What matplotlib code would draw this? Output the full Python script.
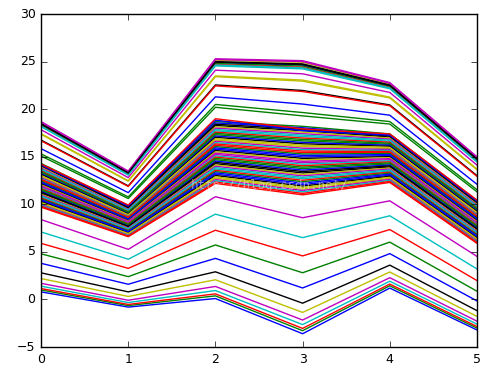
import matplotlib
matplotlib.use("Agg")
import matplotlib.pyplot as plt

# x positions
x = [0, 1, 2, 3, 4, 5]

# lower, sparse lines (plotted first)
lower_lines = [
    [0.80, -0.80, 0.10, -3.60, 1.20, -3.20],
    [1.00, -0.64, 0.38, -3.28, 1.44, -3.00],
    [1.15, -0.52, 0.59, -3.04, 1.62, -2.84],
    [1.40, -0.32, 0.94, -2.64, 1.92, -2.59],
    [1.70, -0.08, 1.37, -2.16, 2.29, -2.28],
    [2.20, 0.32, 2.07, -1.36, 2.89, -1.78],
    [2.80, 0.80, 2.91, -0.39, 3.61, -1.17],
    [3.80, 1.60, 4.32, 1.21, 4.82, -0.15],
    [4.80, 2.40, 5.73, 2.81, 6.03, 0.87],
    [5.90, 3.27, 7.28, 4.58, 7.35, 1.99],
    [7.10, 4.23, 8.97, 6.50, 8.80, 3.21],
    [8.40, 5.27, 10.80, 8.59, 10.37, 4.53],
]

# the dense band in the middle
middle_lines = [
    [9.70, 6.60, 12.20, 11.00, 12.30, 5.90],
    [9.80, 6.67, 12.34, 11.15, 12.41, 6.00],
    [9.90, 6.74, 12.48, 11.31, 12.52, 6.09],
    [9.99, 6.80, 12.61, 11.46, 12.63, 6.19],
    [10.09, 6.87, 12.75, 11.61, 12.73, 6.28],
    [10.19, 6.94, 12.89, 11.77, 12.84, 6.38],
    [10.29, 7.01, 13.03, 11.92, 12.95, 6.47],
    [10.39, 7.08, 13.17, 12.07, 13.06, 6.57],
    [10.48, 7.14, 13.31, 12.23, 13.17, 6.67],
    [10.58, 7.21, 13.44, 12.38, 13.28, 6.76],
    [10.68, 7.28, 13.58, 12.53, 13.39, 6.86],
    [10.78, 7.35, 13.72, 12.69, 13.49, 6.95],
    [10.87, 7.42, 13.86, 12.84, 13.60, 7.05],
    [10.97, 7.49, 14.00, 12.99, 13.71, 7.14],
    [11.07, 7.55, 14.14, 13.14, 13.82, 7.24],
    [11.17, 7.62, 14.27, 13.30, 13.93, 7.34],
    [11.27, 7.69, 14.41, 13.45, 14.04, 7.43],
    [11.36, 7.76, 14.55, 13.60, 14.14, 7.53],
    [11.46, 7.83, 14.69, 13.76, 14.25, 7.62],
    [11.56, 7.89, 14.83, 13.91, 14.36, 7.72],
    [11.66, 7.96, 14.97, 14.06, 14.47, 7.81],
    [11.76, 8.03, 15.10, 14.22, 14.58, 7.91],
    [11.85, 8.10, 15.24, 14.37, 14.69, 8.01],
    [11.95, 8.17, 15.38, 14.52, 14.80, 8.10],
    [12.05, 8.23, 15.52, 14.68, 14.90, 8.20],
    [12.15, 8.30, 15.66, 14.83, 15.01, 8.29],
    [12.24, 8.37, 15.80, 14.98, 15.12, 8.39],
    [12.34, 8.44, 15.93, 15.14, 15.23, 8.48],
    [12.44, 8.51, 16.07, 15.29, 15.34, 8.58],
    [12.54, 8.57, 16.21, 15.44, 15.45, 8.68],
    [12.64, 8.64, 16.35, 15.60, 15.55, 8.77],
    [12.73, 8.71, 16.49, 15.75, 15.66, 8.87],
    [12.83, 8.78, 16.63, 15.90, 15.77, 8.96],
    [12.93, 8.85, 16.76, 16.06, 15.88, 9.06],
    [13.03, 8.91, 16.90, 16.21, 15.99, 9.15],
    [13.13, 8.98, 17.04, 16.36, 16.10, 9.25],
    [13.22, 9.05, 17.18, 16.51, 16.21, 9.35],
    [13.32, 9.12, 17.32, 16.67, 16.31, 9.44],
    [13.42, 9.19, 17.46, 16.82, 16.42, 9.54],
    [13.52, 9.26, 17.59, 16.97, 16.53, 9.63],
    [13.61, 9.32, 17.73, 17.13, 16.64, 9.73],
    [13.71, 9.39, 17.87, 17.28, 16.75, 9.82],
    [13.81, 9.46, 18.01, 17.43, 16.86, 9.92],
    [13.91, 9.53, 18.15, 17.59, 16.97, 10.02],
    [14.01, 9.60, 18.29, 17.74, 17.07, 10.11],
    [14.10, 9.66, 18.42, 17.89, 17.18, 10.21],
    [14.20, 9.73, 18.56, 18.05, 17.29, 10.30],
    [14.30, 9.80, 18.70, 18.20, 17.40, 10.40],
]

# upper, sparse lines
upper_lines = [
    [18.70, 13.50, 25.30, 25.10, 22.80, 15.00],
    [18.59, 13.41, 25.15, 24.93, 22.67, 14.89],
    [18.49, 13.33, 25.00, 24.76, 22.54, 14.78],
    [18.41, 13.27, 24.90, 24.64, 22.45, 14.71],
    [18.34, 13.21, 24.80, 24.53, 22.37, 14.64],
    [18.27, 13.16, 24.70, 24.41, 22.28, 14.56],
    [18.16, 13.07, 24.55, 24.24, 22.15, 14.45],
    [17.84, 12.81, 24.10, 23.72, 21.76, 14.13],
    [17.43, 12.48, 23.50, 23.06, 21.27, 13.71],
    [16.75, 11.94, 22.55, 21.97, 20.45, 13.02],
    [15.85, 11.23, 21.30, 20.54, 19.37, 12.11],
    [15.30, 10.78, 20.50, 19.65, 18.70, 11.54],
    [16.68, 11.88, 22.45, 21.86, 20.36, 12.94],
    [18.23, 13.13, 24.65, 24.35, 22.24, 14.53],
    [18.64, 13.45, 25.22, 25.01, 22.73, 14.94],
    [17.36, 12.43, 23.42, 22.95, 21.18, 13.64],
    [18.45, 13.30, 24.95, 24.70, 22.50, 14.75],
    [14.12, 9.84, 18.85, 17.75, 17.27, 10.34],
    [15.08, 10.61, 20.20, 19.30, 18.44, 11.32],
    [14.23, 9.93, 19.00, 17.93, 17.40, 10.45],
]

plt.style.use('classic')
plt.rcParams['font.size'] = 9

fig = plt.figure(figsize=(5.01, 3.70), dpi=100, facecolor='white')
ax = fig.add_axes([0.082, 0.062, 0.870, 0.900])

# the middle rows are not drawn in sorted order, so the colours mix
n_mid = len(middle_lines)
mid_order = [(i * 11 + 4) % n_mid for i in range(n_mid)]

for row in lower_lines:
    ax.plot(x, row)
for i in mid_order:
    ax.plot(x, middle_lines[i])
for row in upper_lines:
    ax.plot(x, row)

ax.set_xlim(0, 5)
ax.set_ylim(-5, 30)

# faint watermark
ax.text(1.72, 11.6, 'http://blog.csdn.net/', color='#dddddd', alpha=0.6,
        fontsize=9, family='DejaVu Sans Mono')

fig.savefig('out.png', dpi=100, facecolor='white')
